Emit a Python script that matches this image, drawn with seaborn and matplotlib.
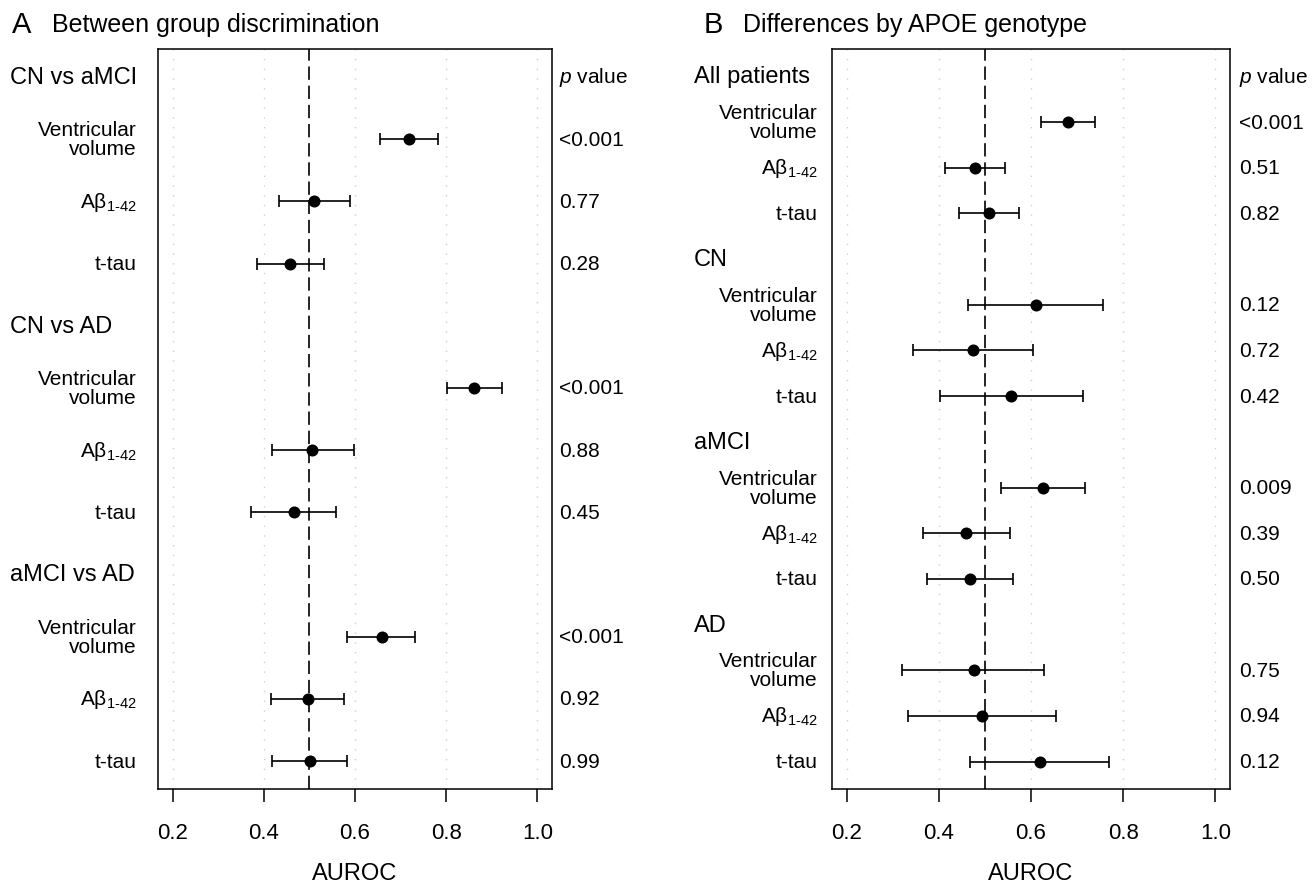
import matplotlib
matplotlib.use("Agg")
import matplotlib.pyplot as plt
import seaborn as sns
import pandas as pd

sns.set_theme(style="white")
plt.rcParams["font.family"] = ["Liberation Sans", "DejaVu Sans"]
plt.rcParams["text.color"] = "black"
plt.rcParams["axes.labelcolor"] = "black"
plt.rcParams["mathtext.fontset"] = "custom"
plt.rcParams["mathtext.rm"] = "Liberation Sans"
plt.rcParams["mathtext.it"] = "Liberation Sans:italic"

# -------------------------
# Data
# -------------------------
MEASURES = ["Ventricular\nvolume", "Aβ$_{\\text{1-42}}$", "t-tau"]

groups_a = ["CN vs aMCI", "CN vs AD", "aMCI vs AD"]
auc_a = [0.719, 0.511, 0.458, 0.862, 0.506, 0.466, 0.659, 0.496, 0.501]
lo_a = [0.654, 0.433, 0.386, 0.802, 0.417, 0.373, 0.583, 0.415, 0.419]
hi_a = [0.783, 0.589, 0.531, 0.922, 0.597, 0.558, 0.732, 0.576, 0.583]
p_a = ["<0.001", "0.77", "0.28", "<0.001", "0.88", "0.45", "<0.001", "0.92", "0.99"]

groups_b = ["All patients", "CN", "aMCI", "AD"]
auc_b = [0.680, 0.478, 0.508, 0.611, 0.475, 0.557, 0.625, 0.459, 0.468, 0.476, 0.494, 0.619]
lo_b = [0.622, 0.414, 0.443, 0.464, 0.343, 0.403, 0.534, 0.365, 0.374, 0.321, 0.334, 0.468]
hi_b = [0.739, 0.544, 0.573, 0.757, 0.605, 0.713, 0.717, 0.555, 0.561, 0.629, 0.655, 0.770]
p_b = ["<0.001", "0.51", "0.82", "0.12", "0.72", "0.42", "0.009", "0.39", "0.50",
       "0.75", "0.94", "0.12"]

xticks = [0.2, 0.4, 0.6, 0.8, 1.0]


def build_frame(groups, auc, lo, hi, pvals):
    rows = []
    k = 0
    for g, grp in enumerate(groups):
        for m, meas in enumerate(MEASURES):
            rows.append({"group": grp, "measure": meas, "row": g * 4 + 1 + m,
                         "auc": auc[k], "lo": lo[k], "hi": hi[k], "p": pvals[k]})
            k += 1
    return pd.DataFrame(rows)


def forest(ax, df, groups, xl_lab, xl_head, xl_p):
    ax.set_xlim(0.168, 1.032)
    nrows = len(groups) * 4
    pad = 0.45 if nrows == 12 else 0.6
    ax.set_ylim(nrows - 1 + pad, -pad)

    for x in xticks:
        ax.axvline(x, color="#cfcfcf", lw=1.0, ls=(0, (1, 6)), zorder=0)
    ax.axvline(0.5, color="black", lw=1.2, ls=(0, (8, 3.5)), zorder=1)

    ax.errorbar(df["auc"], df["row"],
                xerr=[df["auc"] - df["lo"], df["hi"] - df["auc"]],
                fmt="none", ecolor="black", elinewidth=1.2, capsize=4.5,
                capthick=1.2, zorder=2)
    sns.scatterplot(data=df, x="auc", y="row", ax=ax, color="black", s=75,
                    edgecolor="black", linewidth=0, zorder=3, legend=False)

    tr = ax.get_yaxis_transform()
    for g, grp in enumerate(groups):
        ax.text(xl_head, g * 4, grp, transform=tr, ha="left", va="center",
                fontsize=17, clip_on=False)
    for _, r in df.iterrows():
        ax.text(xl_lab, r["row"], r["measure"], transform=tr, ha="right",
                va="center", fontsize=15, linespacing=1.0, clip_on=False)
        ax.text(xl_p, r["row"], r["p"], transform=tr, ha="left", va="center",
                fontsize=15, clip_on=False)
    ax.text(xl_p, 0, "$p$ value", transform=tr, ha="left", va="center",
            fontsize=15, clip_on=False)

    ax.set_xticks(xticks)
    ax.set_xticklabels([f"{t:.1f}" for t in xticks], fontsize=16)
    ax.set_yticks([])
    ax.tick_params(axis="x", direction="out", length=9.5, width=1.1,
                   pad=14, bottom=True, colors="black")
    ax.set_xlabel("AUROC", fontsize=17, labelpad=14)
    ax.set_ylabel("")
    for s in ax.spines.values():
        s.set_color("black")
        s.set_linewidth(1.1)


fig = plt.figure(figsize=(13.15, 8.87), dpi=100)
W, H = 1315, 887
ax_a = fig.add_axes([158 / W, (H - 790) / H, 394 / W, 740 / H])
ax_b = fig.add_axes([832 / W, (H - 790) / H, 398 / W, 740 / H])

df_a = build_frame(groups_a, auc_a, lo_a, hi_a, p_a)
df_b = build_frame(groups_b, auc_b, lo_b, hi_b, p_b)

forest(ax_a, df_a, groups_a, (137 - 158) / 394, (10 - 158) / 394, (559 - 158) / 394)
forest(ax_b, df_b, groups_b, (818 - 832) / 398, (694 - 832) / 398, (1239 - 832) / 398)

fig.text(12 / W, 1 - 25 / H, "A", fontsize=21, ha="left", va="center")
fig.text(52 / W, 1 - 25 / H, "Between group discrimination", fontsize=18,
         ha="left", va="center")
fig.text(704 / W, 1 - 25 / H, "B", fontsize=21, ha="left", va="center")
fig.text(743 / W, 1 - 25 / H, "Differences by APOE genotype", fontsize=18,
         ha="left", va="center")

fig.savefig("out.png", dpi=100)
